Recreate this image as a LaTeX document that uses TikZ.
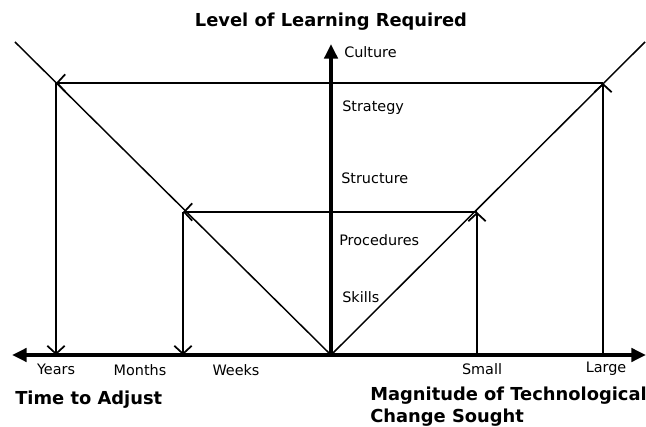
\documentclass[tikz,border=0pt]{standalone}
\usepackage{fontspec}
\setmainfont{DejaVu Sans}
\usetikzlibrary{arrows.meta, positioning}
\tikzstyle{axis} = [line width=2.6pt, -{Triangle[length=11pt, width=10pt]}]
\tikzstyle{slope} = [line width=1.1pt]
\tikzstyle{adjust} = [line width=1.1pt, -{Straight Barb[length=6pt, width=13pt, line width=1.3pt]}]
\tikzstyle{level} = [anchor=west, inner sep=0pt, font=\fontsize{10.8}{13}\selectfont]
\tikzstyle{tick_label} = [inner sep=0pt, font=\fontsize{10.8}{13}\selectfont]
\tikzstyle{heading} = [inner sep=0pt, font=\fontsize{13.4}{16}\selectfont\bfseries]

\begin{document}
\begin{tikzpicture}[x=0.75pt, y=-0.75pt]

    \useasboundingbox (0, 0) rectangle (646, 427);

    % axes and the two slopes
    \coordinate (origin) at (331, 355);
    \coordinate (x_left) at (12, 355);
    \coordinate (x_right) at (646, 355);
    \coordinate (y_top) at (331, 44);
    \coordinate (slope_left) at (15, 42);
    \coordinate (slope_right) at (645, 42);

    % corners on the slopes
    \coordinate (years) at (56, 83);
    \coordinate (large) at (603, 83);
    \coordinate (months) at (183, 212);
    \coordinate (small) at (477, 212);

    \draw [slope] (slope_left) -- (origin) -- (slope_right);

    \draw [axis, {Triangle[length=11pt, width=10pt]}-{Triangle[length=11pt, width=10pt]}] (x_left) -- (x_right);
    \draw [axis] (origin) -- (y_top);

    \draw [adjust] (large |- origin) -- (large);
    \draw [adjust] (large) -- (years);
    \draw [adjust] (years) -- (years |- origin);

    \draw [adjust] (small |- origin) -- (small);
    \draw [adjust] (small) -- (months);
    \draw [adjust] (months) -- (months |- origin);

    \node (title) [heading] at (331, 22) {Level of Learning Required};

    \node (culture) [level] at (344, 52) {Culture};
    \node (strategy) [level] at (342, 108) {Strategy};
    \node (structure) [level] at (341, 178) {Structure};
    \node (procedures) [level] at (339, 240) {Procedures};
    \node (skills) [level] at (342, 297) {Skills};

    \node (years_label) [tick_label] at (56, 369) {Years};
    \node (months_label) [tick_label] at (140, 370) {Months};
    \node (weeks_label) [tick_label] at (236, 370) {Weeks};
    \node (small_label) [tick_label] at (482, 369) {Small};
    \node (large_label) [tick_label] at (606, 369) {Large};

    \node (time) [heading, anchor=west] at (15, 400) {Time to Adjust};
    \node (magnitude) [heading, anchor=north west, align=left] at (370, 387) {Magnitude of Technological\\Change Sought};

\end{tikzpicture}
\end{document}
